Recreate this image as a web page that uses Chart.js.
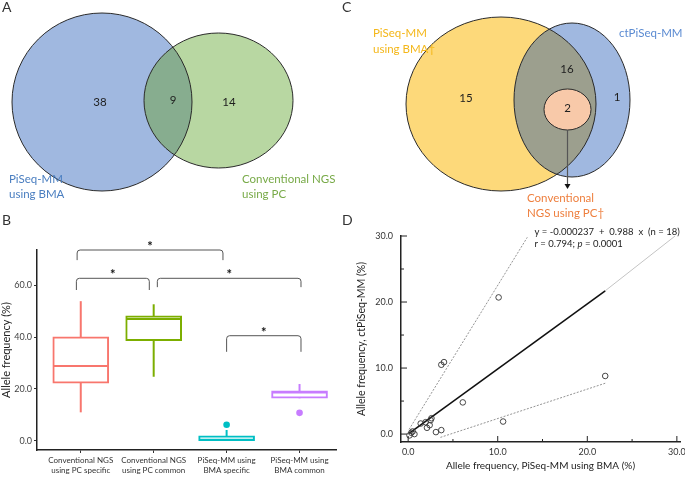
<!DOCTYPE html>
<html>
<head>
<meta charset="utf-8">
<script src="https://cdn.jsdelivr.net/npm/chart.js@4.4.0/dist/chart.umd.min.js"></script>
<style>
  html, body { margin: 0; padding: 0; background: #fff; }
  #wrap { position: relative; width: 685px; height: 479px; overflow: hidden; }
  canvas { position: absolute; }
  .panel { position: absolute; font: 14px Lato, sans-serif; color: #333; line-height: 14px; }
</style>
</head>
<body>
<div id="wrap">
  <canvas id="boxB" width="340" height="264" style="left:0;top:215px"></canvas>
  <canvas id="scatD" width="345" height="264" style="left:340px;top:215px"></canvas>
  <canvas id="vennA" width="345" height="215" style="left:0;top:0"></canvas>
  <canvas id="vennC" width="345" height="225" style="left:340px;top:0"></canvas>
  <div class="panel" style="left:2px;top:0">A</div>
  <div class="panel" style="left:2px;top:213px">B</div>
  <div class="panel" style="left:342px;top:0">C</div>
  <div class="panel" style="left:342px;top:213px">D</div>
</div>
<script>
// ---- data ----
// A: Venn, counts = only BMA, shared, only PC
const vennANames = [['PiSeq-MM', 'using BMA'], ['Conventional NGS', 'using PC']];
const vennACounts = [38, 9, 14];

// C: Venn, counts = only BMA, BMA∩ct, only ct, all three
const vennCNames = [['PiSeq-MM', 'using BMA\u2020'], ['ctPiSeq-MM'], ['Conventional', 'NGS using PC\u2020']];
const vennCCounts = [15, 16, 1, 2];

// B: box plot
const boxCategories = [
  ['Conventional NGS', 'using PC specific'],
  ['Conventional NGS', 'using PC common'],
  ['PiSeq-MM using', 'BMA specific'],
  ['PiSeq-MM using', 'BMA common']
];
const boxMin = [11.0, 24.7, 0.0, 16.4];
const boxQ1 = [22.2, 38.6, 0.1, 16.5];
const boxMedian = [28.8, 46.9, 0.4, 18.6];
const boxQ3 = [40.1, 48.2, 2.0, 19.3];
const boxMax = [53.8, 52.6, 4.2, 21.9];
const outlierCat = [2, 3];
const outlierVal = [6.2, 10.8];
const boxYTicks = [0, 20, 40, 60];
// significance brackets (category positions, y values in %)
const bracketFrom = [-0.05, -0.06, 1.05, 2.0];
const bracketTo = [1.95, 0.94, 3.02, 3.02];
const bracketTop = [73.5, 62.6, 62.6, 40.5];
const bracketEnd = [69.6, 58.1, 59.2, 34.3];
const bracketMark = ['*', '*', '*', '*'];

// D: scatter with fitted line
const scatterX = [0.15, 0.35, 0.7, 0.5, 1.4, 1.95, 2.5, 2.6, 2.1, 2.4, 3.1, 3.7, 3.7, 4.0, 6.1, 10.1, 10.6, 22.0];
const scatterY = [-0.2, 0.2, 0.0, 0.4, 1.6, 1.8, 2.1, 2.4, 0.95, 1.35, 0.3, 0.6, 10.5, 10.9, 4.8, 20.7, 1.9, 8.8];
const fitX = [0.1, 22.0], fitY = [0.1, 21.7];
const fitExtX = [22.0, 29.8], fitExtY = [21.7, 30.0];
const upperX = [0.1, 13.3], upperY = [0.7, 29.8];
const lowerX = [3.6, 22.0], lowerY = [-0.5, 7.7];
const dTicks = [0, 5, 10, 15, 20, 25, 30];
const fitText = 'y = -0.000237  +  0.988  x  (n = 18)';

// ---- defaults ----
const FONT = 'Lato, "Open Sans", sans-serif';
Chart.defaults.font.family = FONT;
Chart.defaults.color = '#333';
Chart.defaults.animation = false;
Chart.defaults.responsive = false;
Chart.defaults.plugins.legend.display = false;
Chart.defaults.plugins.tooltip.enabled = false;

// ---- Venn helpers ----
function ellipsePx(chart, e) {
  const { x, y } = chart.scales;
  const cx = x.getPixelForValue(e.cx), cy = y.getPixelForValue(e.cy);
  return {
    cx, cy,
    rx: Math.abs(x.getPixelForValue(e.cx + e.rx) - cx),
    ry: Math.abs(y.getPixelForValue(e.cy + e.ry) - cy)
  };
}
function ellPath(ctx, p) {
  ctx.beginPath();
  ctx.ellipse(p.cx, p.cy, p.rx, p.ry, 0, 0, Math.PI * 2);
}

function makeVennPlugin(shape) {
  return {
    id: 'venn',
    beforeDatasetsDraw(chart) {
      const ctx = chart.ctx;
      const P = shape.ellipses.map(e => ellipsePx(chart, e));
      ctx.save();
      P.slice(0, 2).forEach((p, i) => { ellPath(ctx, p); ctx.fillStyle = shape.fills[i]; ctx.fill(); });
      ctx.save();
      ellPath(ctx, P[0]); ctx.clip();
      ellPath(ctx, P[1]); ctx.fillStyle = shape.overlap; ctx.fill();
      ctx.restore();
      P.slice(2).forEach((p, i) => { ellPath(ctx, p); ctx.fillStyle = shape.fills[i + 2]; ctx.fill(); });
      ctx.strokeStyle = '#2a2a2a';
      ctx.lineWidth = 1;
      P.forEach(p => { ellPath(ctx, p); ctx.stroke(); });

      // arrow (panel C)
      if (shape.arrow) {
        const { x, y } = chart.scales;
        const ax = x.getPixelForValue(shape.arrow.x);
        const y1 = y.getPixelForValue(shape.arrow.y1), y2 = y.getPixelForValue(shape.arrow.y2);
        ctx.strokeStyle = '#555';
        ctx.lineWidth = 1.2;
        ctx.beginPath(); ctx.moveTo(ax, y1); ctx.lineTo(ax, y2 - 4); ctx.stroke();
        ctx.fillStyle = '#111';
        ctx.beginPath(); ctx.moveTo(ax - 3, y2 - 5); ctx.lineTo(ax + 3, y2 - 5); ctx.lineTo(ax, y2); ctx.closePath(); ctx.fill();
      }
      ctx.restore();
    },
    afterDatasetsDraw(chart) {
      const ctx = chart.ctx;
      const { x, y } = chart.scales;
      const meta = chart.getDatasetMeta(0);
      const data = chart.data.datasets[0].data;
      ctx.save();
      ctx.font = shape.countFont;
      ctx.fillStyle = '#1e1e1e';
      ctx.textAlign = 'center';
      ctx.textBaseline = 'middle';
      meta.data.forEach((pt, i) => ctx.fillText(String(data[i].v), pt.x, pt.y));
      ctx.font = shape.nameFont;
      ctx.textAlign = 'left';
      shape.names.forEach(n => {
        ctx.fillStyle = n.color;
        n.lines.forEach((line, k) => {
          ctx.fillText(line, x.getPixelForValue(n.at[0]), y.getPixelForValue(n.at[1] + k * n.gap));
        });
      });
      ctx.restore();
    }
  };
}

function vennChart(id, w, h, counts, countAt, shape) {
  return new Chart(document.getElementById(id), {
    type: 'scatter',
    data: {
      datasets: [{
        data: counts.map((v, i) => ({ x: countAt[i][0], y: countAt[i][1], v })),
        pointRadius: 0
      }]
    },
    options: {
      layout: { padding: 0 },
      events: [],
      scales: {
        x: { type: 'linear', min: 0, max: w, display: false },
        y: { type: 'linear', min: 0, max: h, reverse: true, display: false }
      }
    },
    plugins: [makeVennPlugin(shape)]
  });
}

// ---- Panel A ----
vennChart('vennA', 345, 215, vennACounts, [[100, 102], [173, 100], [229, 102]], {
  ellipses: [
    { cx: 102, cy: 102, rx: 90, ry: 89 },
    { cx: 218.5, cy: 100.5, rx: 74.5, ry: 67.5 }
  ],
  fills: ['#a0b8e0', '#b8d7a2'],
  overlap: '#87ad8f',
  countFont: '11.5px ' + FONT,
  nameFont: '11.5px ' + FONT,
  names: [
    { lines: vennANames[0], at: [9, 179], gap: 15, color: '#4a7ec0' },
    { lines: vennANames[1], at: [242, 179], gap: 15, color: '#78aa48' }
  ]
});

// ---- Panel C ----
vennChart('vennC', 345, 225, vennCCounts, [[126, 98], [227, 69], [277, 97], [227.5, 108]], {
  ellipses: [
    { cx: 161, cy: 104, rx: 95, ry: 87 },
    { cx: 232, cy: 100, rx: 58, ry: 77 },
    { cx: 227.5, cy: 109.5, rx: 23.5, ry: 20.5 }
  ],
  fills: ['#fdd97a', '#a0b8e0', '#f8c9a9'],
  overlap: '#9c9f8e',
  countFont: '11.5px ' + FONT,
  nameFont: '11.5px ' + FONT,
  arrow: { x: 227.5, y1: 130, y2: 189 },
  names: [
    { lines: vennCNames[0], at: [33, 33], gap: 16, color: '#f4b71a' },
    { lines: vennCNames[1], at: [279, 33], gap: 16, color: '#5b8bd2' },
    { lines: vennCNames[2], at: [187, 198], gap: 15, color: '#ee7f3e' }
  ]
});

// ---- Panel B ----
const boxColors = ['#f8766d', '#7cae00', '#00bfc4', '#c77cff'];

const boxPartsPlugin = {
  id: 'boxParts',
  beforeDatasetsDraw(chart) {
    const { ctx, scales: { x, y } } = chart;
    ctx.save();
    ctx.lineWidth = 2;
    boxMin.forEach((v, i) => {
      const px = x.getPixelForValue(i);
      ctx.strokeStyle = boxColors[i];
      ctx.beginPath();
      ctx.moveTo(px, y.getPixelForValue(boxMin[i]));
      ctx.lineTo(px, y.getPixelForValue(boxMax[i]));
      ctx.stroke();
    });
    ctx.restore();
  },
  afterDatasetsDraw(chart) {
    const { ctx, scales: { x, y } } = chart;
    const bars = chart.getDatasetMeta(1).data;
    ctx.save();
    ctx.lineWidth = 2;
    bars.forEach((bar, i) => {
      const py = y.getPixelForValue(boxMedian[i]);
      ctx.strokeStyle = boxColors[i];
      ctx.beginPath();
      ctx.moveTo(bar.x - bar.width / 2 + 1, py);
      ctx.lineTo(bar.x + bar.width / 2 - 1, py);
      ctx.stroke();
    });
    // brackets with stars
    ctx.strokeStyle = '#555';
    ctx.lineWidth = 1;
    ctx.fillStyle = '#111';
    ctx.font = 'bold 13px ' + FONT;
    ctx.textAlign = 'center';
    ctx.textBaseline = 'alphabetic';
    bracketFrom.forEach((f, i) => {
      const x1 = x.getPixelForValue(f), x2 = x.getPixelForValue(bracketTo[i]);
      const yt = y.getPixelForValue(bracketTop[i]), ye = y.getPixelForValue(bracketEnd[i]);
      const r = 3;
      ctx.beginPath();
      ctx.moveTo(x1, ye);
      ctx.lineTo(x1, yt + r);
      ctx.quadraticCurveTo(x1, yt, x1 + r, yt);
      ctx.lineTo(x2 - r, yt);
      ctx.quadraticCurveTo(x2, yt, x2, yt + r);
      ctx.lineTo(x2, ye);
      ctx.stroke();
      ctx.fillText(bracketMark[i], (x1 + x2) / 2, yt + 1);
    });
    ctx.restore();
  }
};

new Chart(document.getElementById('boxB'), {
  type: 'bar',
  data: {
    datasets: [
      {
        type: 'scatter',
        data: outlierCat.map((c, i) => ({ x: c, y: outlierVal[i] })),
        pointRadius: 3.3,
        pointBorderWidth: 0,
        pointBackgroundColor: outlierCat.map(c => boxColors[c])
      },
      {
        type: 'bar',
        data: boxQ1.map((q, i) => ({ x: i, y: [q, boxQ3[i]] })),
        backgroundColor: '#ffffff',
        borderColor: boxColors,
        borderWidth: 2,
        borderSkipped: false,
        barThickness: 56,
        grouped: false
      }
    ]
  },
  options: {
    events: [],
    layout: { padding: { top: 35, right: 0, bottom: 0, left: 0 } },
    scales: {
      x: {
        type: 'linear',
        min: -0.6,
        max: 3.5,
        offset: false,
        grid: { display: true, offset: false, drawOnChartArea: false, drawTicks: true, tickLength: 3, color: '#333' },
        border: { display: true, color: '#222', width: 1.5 },
        afterBuildTicks: s => { s.ticks = boxCategories.map((c, i) => ({ value: i })); },
        ticks: {
          padding: 2,
          maxRotation: 0,
          autoSkip: false,
          color: '#333',
          font: { size: 8, lineHeight: 1.25 },
          callback: v => boxCategories[v]
        },
        afterFit: s => { s.height = 29; s.paddingLeft = 0; s.paddingRight = 0; }
      },
      y: {
        min: -3.5,
        max: 73.5,
        grid: { display: true, drawOnChartArea: false, drawTicks: true, tickLength: 3, color: '#333' },
        border: { display: true, color: '#222', width: 1.5 },
        afterBuildTicks: s => { s.ticks = boxYTicks.map(v => ({ value: v })); },
        ticks: { padding: 2, color: '#444', font: { size: 9 }, callback: v => v.toFixed(1) },
        title: { display: true, text: 'Allele frequency (%)', color: '#222', font: { size: 11 }, padding: { top: 0, bottom: 0 } },
        afterFit: s => { s.width = 37; s.paddingTop = 0; s.paddingBottom = 0; }
      }
    }
  },
  plugins: [boxPartsPlugin]
});

// ---- Panel D ----
const pairs = (xs, ys) => xs.map((v, i) => ({ x: v, y: ys[i] }));

const innerTicksPlugin = {
  id: 'innerTicks',
  afterDraw(chart) {
    const { ctx, scales: { x, y } } = chart;
    ctx.save();
    ctx.strokeStyle = '#222';
    ctx.lineWidth = 1;
    x.ticks.forEach(t => {
      const px = x.getPixelForValue(t.value);
      const len = t.value % 10 === 0 ? 6 : 3;
      ctx.beginPath(); ctx.moveTo(px, y.bottom); ctx.lineTo(px, y.bottom - len); ctx.stroke();
    });
    y.ticks.forEach(t => {
      const py = y.getPixelForValue(t.value);
      const len = t.value % 10 === 0 ? 6 : 3;
      ctx.beginPath(); ctx.moveTo(x.left, py); ctx.lineTo(x.left + len, py); ctx.stroke();
    });
    // fit equation
    const tx = x.getPixelForValue(14.1);
    ctx.fillStyle = '#222';
    ctx.font = '9.5px ' + FONT;
    ctx.textBaseline = 'middle';
    ctx.textAlign = 'left';
    ctx.fillText(fitText, tx, y.getPixelForValue(30.6));
    const ly = y.getPixelForValue(28.8);
    const part1 = 'r = 0.794; ';
    ctx.fillText(part1, tx, ly);
    let w = ctx.measureText(part1).width;
    ctx.font = 'italic 9.5px ' + FONT;
    ctx.fillText('p', tx + w, ly);
    w += ctx.measureText('p').width;
    ctx.font = '9.5px ' + FONT;
    ctx.fillText(' = 0.0001', tx + w, ly);
    ctx.restore();
  }
};

const lineSet = (xs, ys, color, width, dash) => ({
  data: pairs(xs, ys),
  showLine: true,
  borderColor: color,
  borderWidth: width,
  borderDash: dash || [],
  pointRadius: 0,
  clip: false
});

new Chart(document.getElementById('scatD'), {
  type: 'scatter',
  data: {
    datasets: [
      {
        data: pairs(scatterX, scatterY),
        pointRadius: 2.8,
        pointBorderWidth: 0.9,
        pointBorderColor: '#333',
        pointBackgroundColor: 'rgba(0,0,0,0)',
        clip: false
      },
      lineSet(fitX, fitY, '#111', 1.6),
      lineSet(fitExtX, fitExtY, '#c4c4c4', 1),
      lineSet(upperX, upperY, '#777', 0.8, [2, 1.5]),
      lineSet(lowerX, lowerY, '#777', 0.8, [2, 1.5])
    ]
  },
  options: {
    events: [],
    layout: { padding: { top: 21, right: 5, bottom: 0, left: 0 } },
    scales: {
      x: {
        type: 'linear',
        min: -0.8,
        max: 30.35,
        grid: { display: false, drawTicks: false },
        border: { display: true, color: '#222', width: 1.5 },
        afterBuildTicks: s => { s.ticks = dTicks.map(v => ({ value: v })); },
        ticks: { padding: 5, color: '#333', font: { size: 9 }, callback: v => (v % 10 === 0 ? v.toFixed(1) : '') },
        title: { display: true, text: 'Allele frequency, PiSeq-MM using BMA (%)', color: '#222', font: { size: 10 }, padding: { top: 0, bottom: 7.5 } },
        afterFit: s => { s.height = 37; s.paddingLeft = 0; s.paddingRight = 0; }
      },
      y: {
        type: 'linear',
        min: -1.2,
        max: 30,
        grid: { display: false, drawTicks: false },
        border: { display: true, color: '#222', width: 1.5 },
        afterBuildTicks: s => { s.ticks = dTicks.map(v => ({ value: v })); },
        ticks: { padding: 8, color: '#333', font: { size: 9 }, callback: v => (v % 10 === 0 ? v.toFixed(1) : '') },
        title: { display: true, text: 'Allele frequency, ctPiSeq-MM (%)', color: '#222', font: { size: 10.5 }, padding: { top: 15.5, bottom: 0 } },
        afterFit: s => { s.width = 61; s.paddingTop = 0; s.paddingBottom = 0; }
      }
    }
  },
  plugins: [innerTicksPlugin]
});
</script>
</body>
</html>
